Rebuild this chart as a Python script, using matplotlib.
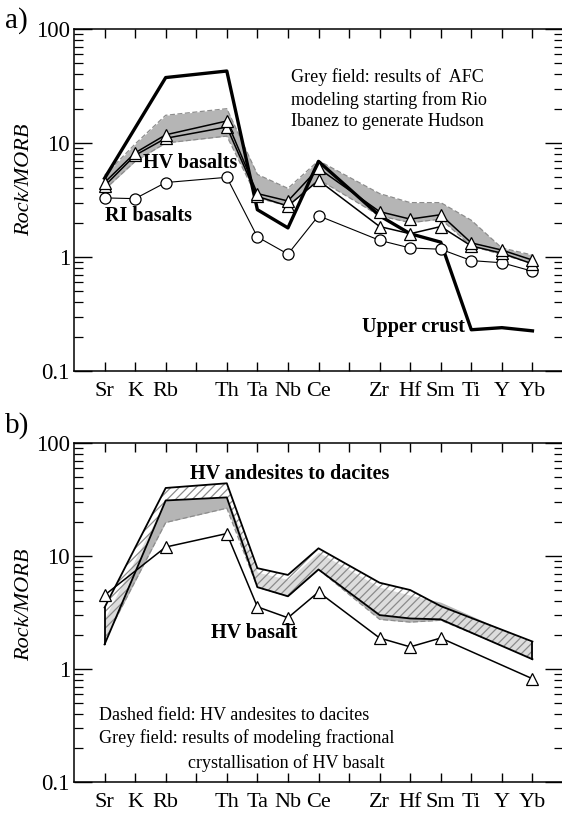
import numpy as np
import matplotlib
matplotlib.use("Agg")
import matplotlib.pyplot as plt
from matplotlib.ticker import LogLocator, FixedLocator, NullFormatter

plt.rcParams['font.family'] = ['Liberation Serif', 'DejaVu Serif']
plt.rcParams['hatch.linewidth'] = 0.9

# element order on the x axis (blank slots keep the spacing)
ticks = ['Sr', 'K', 'Rb', '', 'Th', 'Ta', 'Nb', 'Ce', '', 'Zr', 'Hf', 'Sm', 'Ti', 'Y', 'Yb']

# ---- panel a ----
elems_a = ['Sr', 'K', 'Rb', 'Th', 'Ta', 'Nb', 'Ce', 'Zr', 'Hf', 'Sm', 'Ti', 'Y', 'Yb']
ri_basalt = [3.3, 3.25, 4.5, 5.0, 1.5, 1.06, 2.3, 1.4, 1.2, 1.17, 0.93, 0.89, 0.75]
hv_basalt_1 = [4.5, 8.2, 11.8, 15.6, 3.6, 3.1, 6.0, 2.5, 2.15, 2.35, 1.33, 1.15, 0.94]
hv_basalt_2 = [4.2, 7.8, 11.0, 13.8, 3.4, 2.8, 4.7, 1.85, 1.6, 1.85, 1.25, 1.08, 0.87]
afc_upper = [5.2, 9.8, 17.5, 20.0, 5.3, 4.0, 7.0, 3.6, 3.0, 3.0, 2.1, 1.2, 1.04]
afc_lower = [3.9, 6.9, 10.0, 11.5, 3.3, 2.8, 4.8, 2.3, 2.0, 2.15, 1.25, 1.05, 0.88]

elems_uc = ['Sr', 'Rb', 'Th', 'Ta', 'Nb', 'Ce', 'Zr', 'Hf', 'Sm', 'Ti', 'Y', 'Yb']
upper_crust = [4.9, 37.5, 42.8, 2.6, 1.8, 6.9, 2.3, 1.6, 1.35, 0.23, 0.24, 0.225]

# ---- panel b ----
elems_b = ['Sr', 'Rb', 'Th', 'Ta', 'Nb', 'Ce', 'Zr', 'Hf', 'Sm', 'Yb']
hv_basalt_b = [4.5, 12.0, 15.8, 3.55, 2.84, 4.8, 1.88, 1.57, 1.88, 0.82]
andesite_upper = [3.5, 40.0, 44.0, 7.8, 6.8, 11.7, 5.8, 5.0, 3.6, 1.75]
andesite_lower = [1.65, 31.0, 33.0, 5.3, 4.4, 7.6, 3.0, 2.8, 2.75, 1.22]
fc_upper = [2.8, 31.0, 33.0, 7.2, 6.2, 10.8, 5.3, 4.5, 3.9, 1.7]
fc_lower = [1.8, 19.8, 26.5, 5.3, 4.4, 7.6, 2.75, 2.6, 2.7, 1.25]


def pos(elems):
    return np.array([ticks.index(e) for e in elems])


W, H = 562, 813
fig = plt.figure(figsize=(W / 100, H / 100), dpi=100)


def px_axes(left, top, right, bottom):
    return fig.add_axes([left / W, 1 - bottom / H, (right - left) / W, (bottom - top) / H])


def style_axes(ax):
    ax.set_yscale('log')
    ax.set_ylim(0.1, 100)
    ax.set_xlim(-1, 15)
    ax.xaxis.set_major_locator(FixedLocator(range(len(ticks))))
    ax.set_xticklabels(ticks, fontsize=16)
    ax.yaxis.set_major_locator(FixedLocator([0.1, 1, 10, 100]))
    ax.set_yticklabels(['0.1', '1', '10', '100'], fontsize=16.5)
    ax.yaxis.set_minor_locator(LogLocator(base=10, subs=np.arange(2, 10)))
    ax.yaxis.set_minor_formatter(NullFormatter())
    ax.tick_params(axis='x', which='both', direction='in', top=True, bottom=True,
                   length=6.5, width=1.0, pad=8)
    ax.tick_params(axis='y', which='major', direction='in', left=True, right=True,
                   length=13, width=1.0, pad=3)
    ax.tick_params(axis='y', which='minor', direction='in', left=True, right=True,
                   length=6.5, width=0.9)
    for s in ax.spines.values():
        s.set_linewidth(1.1)


def ftext(x, y, s, **kw):
    fig.text(x / W, 1 - y / H, s, va='center', ha='left', **kw)


# ---------------- panel a ----------------
ax1 = px_axes(74, 29, 563, 371)
style_axes(ax1)
xa = pos(elems_a)
ax1.fill_between(xa, afc_lower, afc_upper, color='#b5b5b5', lw=0, zorder=1)
ax1.plot(xa, afc_upper, color='#8c8c8c', lw=0.9, ls=(0, (4, 2)), zorder=1.5)
ax1.plot(xa, afc_lower, color='#8c8c8c', lw=0.9, ls=(0, (4, 2)), zorder=1.5)
ax1.plot(pos(elems_uc), upper_crust, color='black', lw=2.4, zorder=3)
ax1.plot(xa, ri_basalt, color='black', lw=0.8, marker='o', ms=8,
         mfc='white', mec='black', mew=0.9, zorder=4)
for vals in (hv_basalt_2, hv_basalt_1):
    ax1.plot(xa, vals, color='black', lw=1.1, marker='^', ms=9,
             mfc='white', mec='black', mew=0.9, zorder=5)

ftext(5, 21, 'a)', fontsize=21)
fig.text(25 / W, 1 - 180 / H, 'Rock/MORB', rotation=90, style='italic',
         fontsize=16, ha='center', va='center')
ftext(143, 163, 'HV basalts', fontsize=14.5, fontweight='bold')
ftext(105, 216, 'RI basalts', fontsize=14.5, fontweight='bold')
ftext(362, 327, 'Upper crust', fontsize=14.5, fontweight='bold')
for y, line in zip([77, 100, 122], ['Grey field: results of  AFC',
                                    'modeling starting from Rio',
                                    'Ibanez to generate Hudson']):
    ftext(291, y, line, fontsize=13)

# ---------------- panel b ----------------
ax2 = px_axes(74, 443, 563, 782)
style_axes(ax2)
xb = pos(elems_b)
ax2.fill_between(xb, fc_lower, fc_upper, color='#b5b5b5', lw=0, zorder=1)
ax2.plot(xb, fc_lower, color='#8c8c8c', lw=0.9, ls=(0, (4, 2)), zorder=1.5)
ax2.fill_between(xb, andesite_lower, andesite_upper, facecolor=(1, 1, 1, 0.55),
                 edgecolor='#8a8a8a', hatch='////', lw=0, zorder=2)
ax2.plot(xb, andesite_upper, color='black', lw=1.3, zorder=3)
ax2.plot(xb, andesite_lower, color='black', lw=1.3, zorder=3)
ax2.plot([xb[0], xb[0]], [andesite_lower[0], andesite_upper[0]], color='black', lw=1.3, zorder=3)
ax2.plot([xb[-1], xb[-1]], [andesite_lower[-1], andesite_upper[-1]], color='black', lw=1.3, zorder=3)
ax2.plot(xb, hv_basalt_b, color='black', lw=1.1, marker='^', ms=9,
         mfc='white', mec='black', mew=0.9, zorder=5)

ftext(5, 426, 'b)', fontsize=21)
fig.text(25 / W, 1 - 605 / H, 'Rock/MORB', rotation=90, style='italic',
         fontsize=16, ha='center', va='center')
ftext(190, 474, 'HV andesites to dacites', fontsize=14.5, fontweight='bold')
ftext(211, 633, 'HV basalt', fontsize=14.5, fontweight='bold')
ftext(99, 715, 'Dashed field: HV andesites to dacites', fontsize=13)
ftext(99, 738, 'Grey field: results of modeling fractional', fontsize=13)
ftext(188, 763, 'crystallisation of HV basalt', fontsize=13)

fig.savefig('out.png', dpi=100)
